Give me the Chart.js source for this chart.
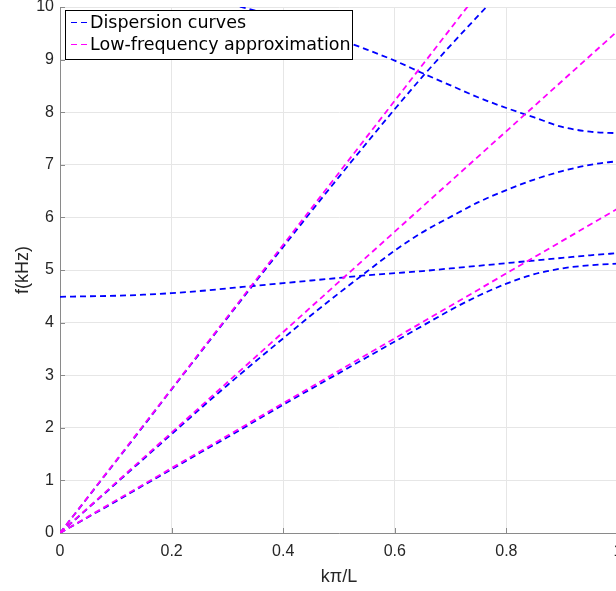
<!DOCTYPE html>
<html>
<head>
<meta charset="utf-8">
<title>Dispersion curves</title>
<script src="https://cdn.jsdelivr.net/npm/chart.js@4.4.1/dist/chart.umd.min.js"></script>
<style>
  html, body { margin: 0; padding: 0; background: #fff; overflow: hidden; }
  #wrap { position: relative; width: 640px; height: 591px; }
</style>
</head>
<body>
<div id="wrap"><canvas id="dispChart"></canvas></div>
<script>
// wave number k*pi/L, read every 0.05
var kValues = [0, 0.05, 0.1, 0.15, 0.2, 0.25, 0.3, 0.35, 0.4, 0.45, 0.5,
               0.55, 0.6, 0.65, 0.7, 0.75, 0.8, 0.85, 0.9, 0.95, 1];

// dispersion curves, f in kHz
var branchFlat  = [4.49, 4.50, 4.51, 4.53, 4.56, 4.60, 4.65, 4.70, 4.75, 4.80, 4.85,
                   4.90, 4.94, 4.98, 5.03, 5.08, 5.13, 5.18, 5.23, 5.28, 5.32];
var branchLow   = [0, 0.30, 0.60, 0.91, 1.21, 1.52, 1.82, 2.13, 2.44, 2.74, 3.04,
                   3.34, 3.64, 3.94, 4.24, 4.51, 4.74, 4.92, 5.03, 5.09, 5.12];
var branchMid   = [0, 0.47, 0.94, 1.41, 1.88, 2.35, 2.81, 3.26, 3.70, 4.14, 4.56,
                   4.97, 5.37, 5.72, 6.01, 6.29, 6.52, 6.72, 6.88, 7.00, 7.07];
var kSteep      = [0, 0.05, 0.1, 0.15, 0.2, 0.25, 0.3, 0.35, 0.4, 0.45, 0.5,
                   0.55, 0.6, 0.65, 0.7, 0.75, 0.8, 0.85];
var branchSteep = [0, 0.68, 1.36, 2.04, 2.73, 3.41, 4.09, 4.77, 5.44, 6.11, 6.77,
                   7.42, 8.06, 8.68, 9.27, 9.84, 10.4, 10.9];
var kDesc       = [0.2, 0.25, 0.3, 0.35, 0.4, 0.45, 0.5, 0.55, 0.6, 0.65, 0.7,
                   0.75, 0.8, 0.85, 0.9, 0.95, 1];
var branchDesc  = [10.3, 10.17, 10.06, 9.93, 9.77, 9.59, 9.39, 9.19, 8.98, 8.74, 8.51,
                   8.28, 8.08, 7.90, 7.72, 7.63, 7.60];

// low-frequency approximation (straight lines through the origin)
var kLine = [0, 1];
var approxSlow = [0, 6.17];
var approxMid  = [0, 9.55];
var approxFast = [0, 13.7];

var xTickLabels = ['0', '0.2', '0.4', '0.6', '0.8', '1'];
var yTickLabels = ['0', '1', '2', '3', '4', '5', '6', '7', '8', '9', '10'];

var curveLabel = 'Dispersion curves';
var approxLabel = 'Low-frequency approximation';

function toPoints(xs, ys) {
  return xs.map(function (x, i) { return { x: x, y: ys[i] }; });
}

function curve(label, xs, ys, color) {
  return {
    label: label,
    data: toPoints(xs, ys),
    borderColor: color,
    borderWidth: 1.8,
    borderDash: [6, 4],
    pointRadius: 0,
    fill: false,
    cubicInterpolationMode: 'monotone'
  };
}

var BLUE = '#0000ff';
var MAGENTA = '#ff00ff';
var TEXT = '#262626';
var AXIS = '#8a8a8a';
var SANS = '"Liberation Sans", Arial, sans-serif';

// small inward tick marks like the original axes
var innerTicks = {
  id: 'innerTicks',
  beforeDatasetsDraw: function (chart) {
    var c = chart.ctx, a = chart.chartArea;
    var xs = chart.scales.x, ys = chart.scales.y;
    c.save();
    c.strokeStyle = AXIS;
    c.lineWidth = 1;
    xs.ticks.forEach(function (t) {
      var px = Math.round(xs.getPixelForValue(t.value)) + 0.5;
      c.beginPath(); c.moveTo(px, a.bottom); c.lineTo(px, a.bottom - 5); c.stroke();
    });
    ys.ticks.forEach(function (t) {
      var py = Math.round(ys.getPixelForValue(t.value)) + 0.5;
      c.beginPath(); c.moveTo(a.left, py); c.lineTo(a.left + 5, py); c.stroke();
    });
    c.restore();
  }
};

// x title and boxed legend
var extras = {
  id: 'extras',
  afterDraw: function (chart) {
    var c = chart.ctx, a = chart.chartArea;
    c.save();
    c.fillStyle = TEXT;
    c.font = '18px ' + SANS;
    c.textAlign = 'center';
    c.textBaseline = 'middle';
    c.fillText('k\u03c0/L', (a.left + a.right) / 2, 577);

    // legend box
    c.fillStyle = '#ffffff';
    c.fillRect(65.5, 10.5, 287, 49);
    c.strokeStyle = '#000000';
    c.lineWidth = 1;
    c.strokeRect(65.5, 10.5, 287, 49);

    var items = [[curveLabel, BLUE, 22], [approxLabel, MAGENTA, 44]];
    c.font = '17.5px "DejaVu Sans", sans-serif';
    c.textAlign = 'left';
    items.forEach(function (it) {
      c.strokeStyle = it[1];
      c.lineWidth = 1.2;
      c.setLineDash([6, 4]);
      c.beginPath(); c.moveTo(71, it[2] + 0.5); c.lineTo(88, it[2] + 0.5); c.stroke();
      c.setLineDash([]);
      c.fillStyle = '#000000';
      c.fillText(it[0], 90, it[2] + 1);
    });
    c.restore();
  }
};

var ctx = document.getElementById('dispChart').getContext('2d');
var chart = new Chart(ctx, {
  type: 'line',
  data: {
    datasets: [
      curve(approxLabel, kLine, approxSlow, MAGENTA),
      curve(approxLabel, kLine, approxMid, MAGENTA),
      curve(approxLabel, kLine, approxFast, MAGENTA),
      curve(curveLabel, kValues, branchFlat, BLUE),
      curve(curveLabel, kValues, branchLow, BLUE),
      curve(curveLabel, kValues, branchMid, BLUE),
      curve(curveLabel, kSteep, branchSteep, BLUE),
      curve(curveLabel, kDesc, branchDesc, BLUE)
    ]
  },
  options: {
    responsive: true,
    maintainAspectRatio: false,
    animation: false,
    layout: { padding: { top: 7, right: 22, bottom: 0, left: 0 } },
    plugins: {
      legend: { display: false },
      tooltip: { enabled: false }
    },
    scales: {
      x: {
        type: 'linear',
        min: 0,
        max: 1,
        border: { color: AXIS },
        grid: { color: '#e6e6e6', drawTicks: false },
        ticks: {
          stepSize: 0.2,
          padding: 9,
          maxRotation: 0,
          autoSkip: false,
          color: TEXT,
          font: { family: SANS, size: 16 },
          callback: function (v, i) { return xTickLabels[i]; }
        },
        afterFit: function (s) { s.height = 58; s.paddingLeft = 0; s.paddingRight = 0; }
      },
      y: {
        min: 0,
        max: 10,
        border: { color: AXIS },
        grid: { color: '#e6e6e6', drawTicks: false },
        ticks: {
          stepSize: 1,
          padding: 6,
          color: TEXT,
          font: { family: SANS, size: 16 },
          callback: function (v, i) { return yTickLabels[i]; }
        },
        title: {
          display: true,
          text: 'f(kHz)',
          color: TEXT,
          font: { family: SANS, size: 18 },
          padding: { top: 12, bottom: 0 }
        },
        afterFit: function (s) { s.width = 60; s.paddingTop = 0; s.paddingBottom = 0; }
      }
    }
  },
  plugins: [innerTicks, extras]
});
</script>
</body>
</html>
